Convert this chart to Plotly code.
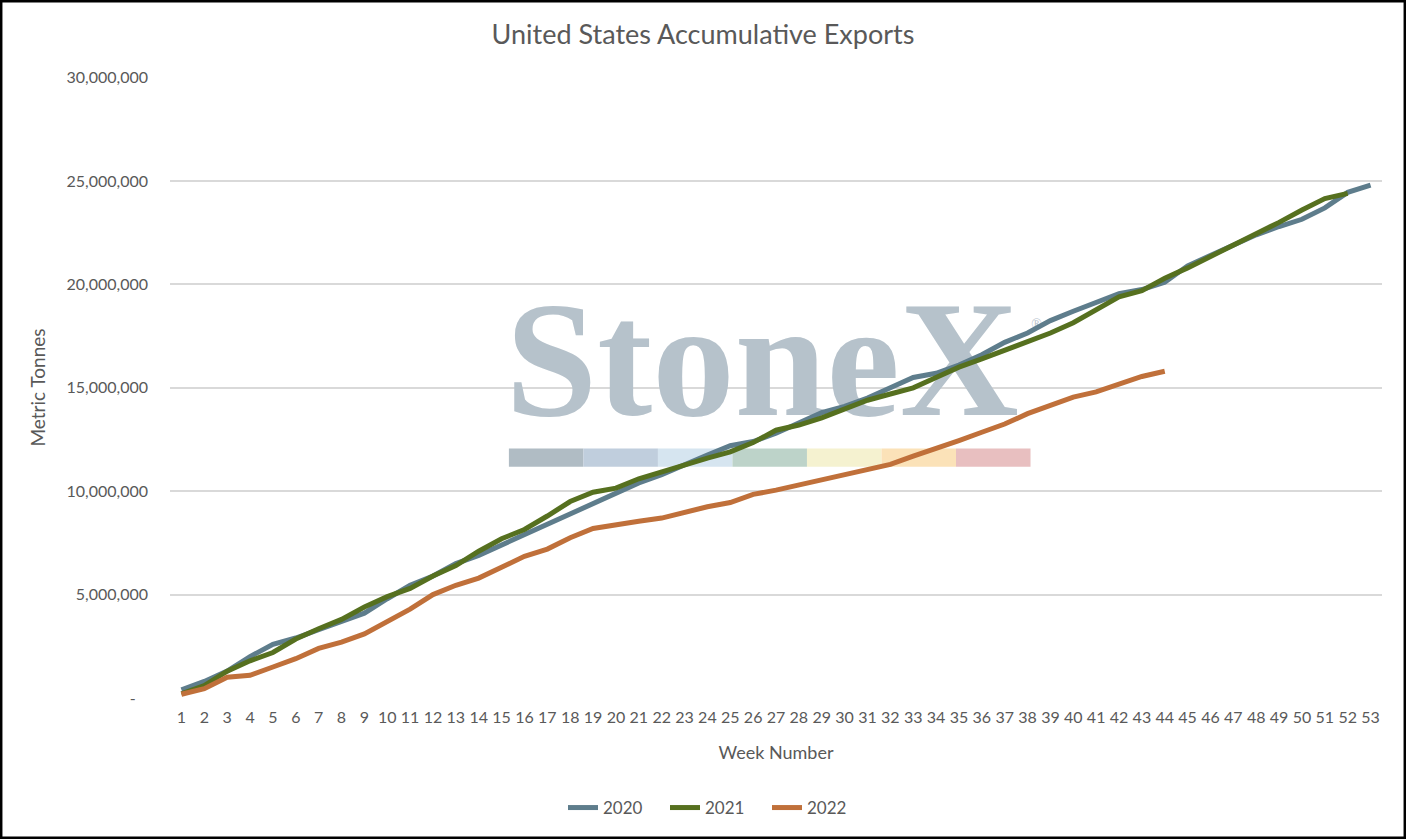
import plotly.graph_objects as go

# 週番号と年ごとの累積輸出量（メトリックトン）
weeks = list(range(1, 54))

exports_2020 = [
    400000, 800000, 1300000, 2000000, 2600000, 2900000, 3300000, 3700000, 4100000, 4800000,
    5450000, 5900000, 6500000, 6900000, 7400000, 7900000, 8450000, 8900000, 9450000, 9950000,
    10400000, 10800000, 11300000, 11750000, 12200000, 12400000, 12800000, 13300000, 13800000, 14100000,
    14500000, 15000000, 15500000, 15700000, 16100000, 16600000, 17200000, 17650000, 18250000, 18700000,
    19100000, 19550000, 19750000, 20100000, 20900000, 21400000, 21850000, 22400000, 22800000, 23150000,
    23700000, 24450000, 24800000,
]
exports_2021 = [
    200000, 600000, 1300000, 1800000, 2200000, 2850000, 3350000, 3800000, 4400000, 4900000,
    5300000, 5900000, 6400000, 7100000, 7700000, 8150000, 8800000, 9500000, 9950000, 10150000,
    10600000, 10950000, 11300000, 11600000, 11900000, 12350000, 12950000, 13200000, 13550000, 14000000,
    14400000, 14700000, 15000000, 15500000, 16000000, 16400000, 16800000, 17200000, 17650000, 18150000,
    18750000, 19400000, 19700000, 20300000, 20800000, 21350000, 21850000, 22450000, 23000000, 23600000,
    24150000, 24400000,
]
exports_2022 = [
    180000, 450000, 1000000, 1100000, 1500000, 1900000, 2400000, 2700000, 3100000, 3700000,
    4300000, 5000000, 5450000, 5800000, 6300000, 6850000, 7200000, 7750000, 8200000, 8400000,
    8550000, 8700000, 9000000, 9250000, 9450000, 9850000, 10050000, 10300000, 10500000, 10800000,
    11050000, 11300000, 11700000, 12050000, 12450000, 12850000, 13250000, 13750000, 14150000, 14550000,
    14800000, 15200000, 15550000, 15800000,
]

series_names = ['2020', '2021', '2022']
y_tickvals = [0, 5000000, 10000000, 15000000, 20000000, 25000000, 30000000]
y_ticktext = ['-\u00a0\u00a0\u00a0', '5,000,000', '10,000,000', '15,000,000',
              '20,000,000', '25,000,000', '30,000,000']

# 色・レイアウト設定
colors = ['#5E7D8C', '#56701F', '#C0703A']
band_colors = ['#B0BCC4', '#C0CEDD', '#D6E5F0', '#BDD3C9', '#F5F2D0', '#FBE2B8', '#E8BFC0']
W, H = 1406, 839
ML, MR, MT, MB = 170, 24, 77, 141
font_main = 'Lato'
grey_text = '#595959'

fig = go.Figure()

# 透かし（StoneXロゴ風）を線の下に描画
fig.add_trace(go.Scatter(x=[26.4], y=[15.7e6], mode='text', text=['StoneX'],
                         textposition='middle center',
                         textfont=dict(family='Liberation Serif', size=165, color='#B6C2CB',
                                       weight='bold'),
                         hoverinfo='skip', showlegend=False))
fig.add_trace(go.Scatter(x=[38.4], y=[18.0e6], mode='text', text=['®'],
                         textposition='middle center',
                         textfont=dict(family='Liberation Serif', size=14, color='#B6C2CB'),
                         hoverinfo='skip', showlegend=False))

band_x0, band_x1 = 15.32, 38.13
band_w = (band_x1 - band_x0) / len(band_colors)
for i, c in enumerate(band_colors):
    fig.add_shape(type='rect', xref='x', yref='y', layer='below',
                  x0=band_x0 + i * band_w, x1=band_x0 + (i + 1) * band_w,
                  y0=11.18e6, y1=12.07e6, fillcolor=c, line=dict(width=0))

for name, vals, c in zip(series_names, [exports_2020, exports_2021, exports_2022], colors):
    fig.add_trace(go.Scatter(x=weeks[:len(vals)], y=vals, mode='lines', name=name,
                             line=dict(color=c, width=5)))

# 外枠
pw, ph = W - ML - MR, H - MT - MB
fig.add_shape(type='rect', xref='paper', yref='paper',
              x0=(1.2 - ML) / pw, x1=(W - 1.2 - ML) / pw,
              y0=1 - (H - 1.2 - MT) / ph, y1=1 + (MT - 1.2) / ph,
              line=dict(color='black', width=2.5), fillcolor='rgba(0,0,0,0)')

fig.update_layout(
    width=W, height=H,
    margin=dict(l=ML, r=MR, t=MT, b=MB),
    paper_bgcolor='white',
    plot_bgcolor='rgba(0,0,0,0)',
    font=dict(family=font_main, color=grey_text, size=16),
    title=dict(text='United States Accumulative Exports', xref='container', x=0.5,
               y=1 - 35 / H, xanchor='center', yanchor='middle',
               font=dict(family=font_main, size=27, color=grey_text)),
    legend=dict(orientation='h', x=(716 - ML) / pw, xanchor='center',
                y=1 - (808 - MT) / ph, yanchor='middle', entrywidth=57,
                font=dict(size=17, color=grey_text)),
    showlegend=True,
)
fig.update_xaxes(range=[0.5, 53.5], tickmode='array', tickvals=weeks,
                 ticktext=[str(w) for w in weeks], tickangle=0,
                 showgrid=False, zeroline=False, showline=False, ticks='',
                 ticklabelstandoff=8,
                 title=dict(text='Week Number', standoff=21, font=dict(size=18)))
fig.update_yaxes(range=[0, 30030000], tickmode='array', tickvals=y_tickvals,
                 ticktext=y_ticktext, showgrid=True, gridcolor='#D9D9D9', gridwidth=1.5,
                 zeroline=False, showline=False, ticks='', ticklabelstandoff=21,
                 title=dict(text='Metric Tonnes', standoff=15, font=dict(size=19)))

fig.write_html('out.html', config={'displayModeBar': False},
               post_script="document.body.style.margin='0';")
